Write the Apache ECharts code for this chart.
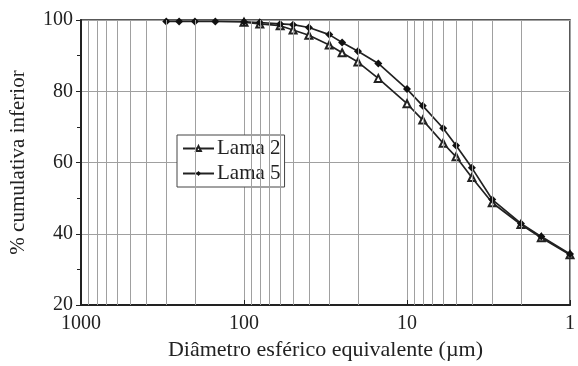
<!DOCTYPE html>
<html>
<head>
<meta charset="utf-8">
<script src="https://cdn.jsdelivr.net/npm/echarts@6/dist/echarts.min.js"></script>
<style>
  html, body { margin: 0; padding: 0; background: #fff; }
  #chart { width: 578px; height: 366px; }
</style>
</head>
<body>
<div id="chart"></div>
<script>
// diâmetros (µm) e % cumulativa inferior
const sizes = [300, 250, 200, 150, 100, 80, 60, 50, 40, 30, 25, 20, 15, 10, 8, 6, 5, 4, 3, 2, 1.5, 1];
const lama2 = [null, null, null, null, 99.4, 98.9, 98.4, 97.2, 95.7, 93.0, 90.8, 88.2, 83.6, 76.5, 71.9, 65.4, 61.6, 55.8, 48.7, 42.6, 38.9, 34.1];
const lama5 = [99.6, 99.6, 99.6, 99.6, 99.5, 99.3, 98.9, 98.7, 97.9, 95.9, 93.7, 91.2, 87.8, 80.6, 75.9, 69.6, 64.8, 58.5, 49.6, 42.9, 39.2, 34.3];
// linhas verticais de grade (menores)
const minorGrid = [2, 3, 4, 5, 6, 7, 8, 9, 20, 30, 40, 50, 60, 70, 80, 90, 200, 300, 400, 500, 600, 700, 800, 900];
const decadeLabels = [1, 10, 100, 1000];

let chart = echarts.init(document.getElementById('chart'));
const serif = '"Liberation Serif", "DejaVu Serif", serif';
const ink = '#222';

function pairs(vals) {
    return sizes.map((s, i) => [s, vals[i]]).filter(p => p[1] !== null);
}

chart.setOption({
    animation: false,
    textStyle: { fontFamily: serif },
    grid: {
        left: 77, right: 2, top: 20, bottom: 57,
        show: true, borderColor: ink, borderWidth: 1.5, backgroundColor: 'transparent'
    },
    legend: {
        left: 177, top: 135,
        orient: 'vertical',
        itemWidth: 31, itemHeight: 6, itemGap: 4,
        padding: [3, 4, 3, 5],
        borderColor: '#444', borderWidth: 1,
        backgroundColor: '#fff',
        textStyle: { fontFamily: serif, fontSize: 21, color: ink, padding: [0, 0, 0, -2] },
        data: ['Lama 2', 'Lama 5']
    },
    xAxis: {
        type: 'log',
        logBase: 10,
        min: 1, max: 1000,
        inverse: true,
        name: 'Diâmetro esférico equivalente (µm)',
        nameLocation: 'middle',
        nameGap: 34,
        nameTextStyle: { fontFamily: serif, fontSize: 22, color: ink },
        axisLine: { lineStyle: { color: ink, width: 2 } },
        axisTick: { show: true, inside: true, length: 5, lineStyle: { color: ink } },
        axisLabel: {
            fontFamily: serif, fontSize: 20, color: ink, margin: 9,
            formatter: v => decadeLabels.includes(Math.round(v)) ? String(Math.round(v)) : ''
        },
        splitLine: { show: true, lineStyle: { color: '#a0a0a0', width: 1 } }
    },
    yAxis: {
        type: 'value',
        min: 20, max: 100, interval: 20,
        name: '% cumulativa inferior',
        nameLocation: 'middle',
        nameGap: 52,
        nameTextStyle: { fontFamily: serif, fontSize: 21, color: ink },
        axisLine: { show: true, lineStyle: { color: ink, width: 2 } },
        axisTick: { show: true, length: 5, lineStyle: { color: ink } },
        minorTick: { show: true, splitNumber: 2, length: 4, lineStyle: { color: ink } },
        axisLabel: { fontFamily: serif, fontSize: 20, color: ink, margin: 8 },
        splitLine: { show: true, lineStyle: { color: '#a0a0a0', width: 1 } }
    },
    series: [
        {
            name: 'Lama 2',
            type: 'line',
            data: pairs(lama2),
            symbol: 'emptyTriangle',
            symbolSize: 7,
            z: 3,
            lineStyle: { color: ink, width: 1.7 },
            itemStyle: { color: ink, borderColor: ink, borderWidth: 1.1 },
            markLine: {
                silent: true,
                symbol: 'none',
                label: { show: false },
                lineStyle: { color: '#a0a0a0', width: 1, type: 'solid' },
                data: minorGrid.map(v => ({ xAxis: v }))
            }
        },
        {
            name: 'Lama 5',
            type: 'line',
            data: pairs(lama5),
            symbol: 'diamond',
            symbolSize: 8,
            z: 4,
            lineStyle: { color: ink, width: 1.7 },
            itemStyle: { color: '#111' }
        }
    ]
});
</script>
</body>
</html>
